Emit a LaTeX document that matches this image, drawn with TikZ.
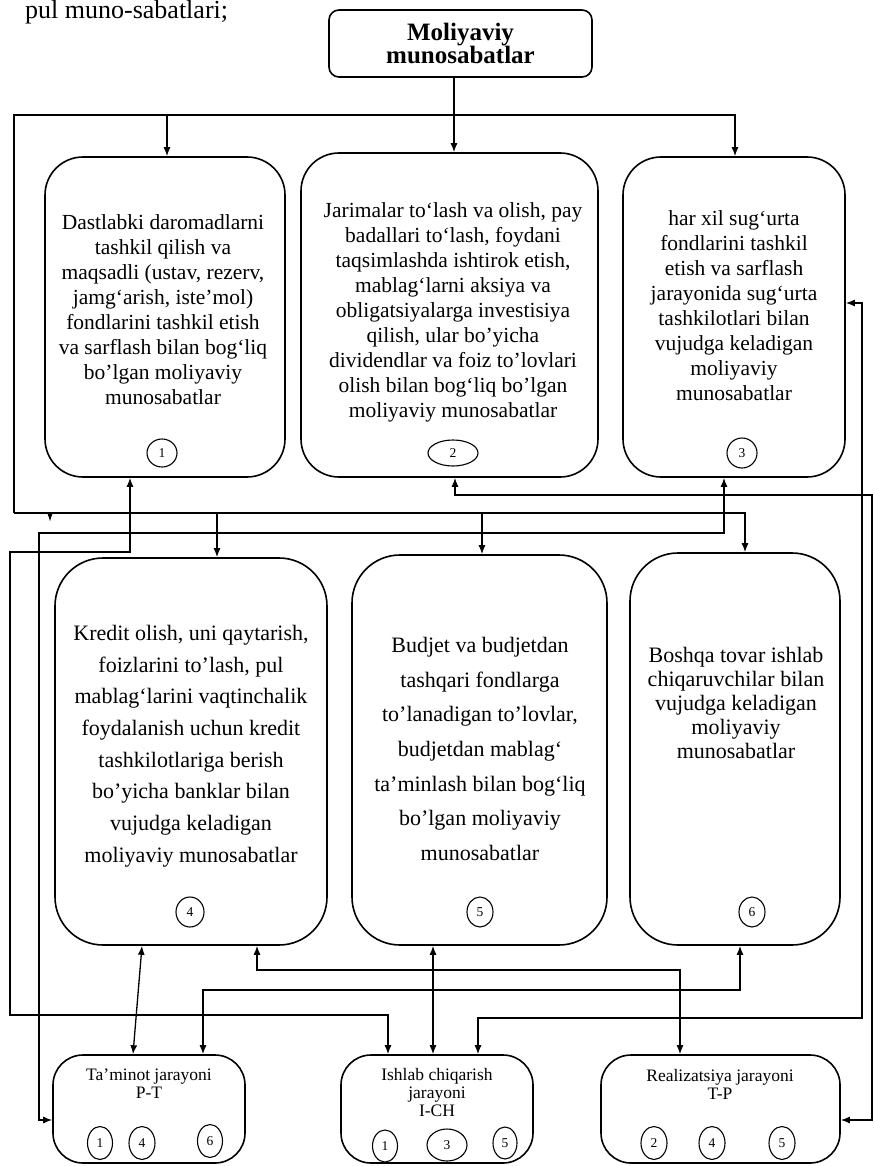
\documentclass[tikz,border=0pt]{standalone}
\usepackage{fontspec}
\setmainfont{Liberation Serif}
\usetikzlibrary{arrows.meta,calc,shapes.geometric}
\begin{document}
\begin{tikzpicture}[x=1pt,y=-1pt,
  >={Latex[length=9pt,width=7pt]},
  box/.style={draw, line width=1.6pt, rounded corners=#1, inner sep=0pt},
  conn/.style={line width=1.3pt},
  txtA/.style={align=center, inner sep=0pt, font=\fontsize{21.5}{25}\selectfont},
  txtB/.style={align=center, inner sep=0pt, font=\fontsize{22}{#1}\selectfont},
  txtC/.style={align=center, inner sep=0pt, font=\fontsize{17.5}{18}\selectfont},
  num/.style 2 args={draw, ellipse, line width=1.1pt, inner sep=0pt,
    minimum width=#1, minimum height=#2, font=\fontsize{13.5}{13.5}\selectfont}
]
\useasboundingbox (0,0) rectangle (874,1166);
\fill[white] (0,0) rectangle (874,1166);

% leftover text from the page above
\node[anchor=base west, inner sep=0pt, font=\fontsize{26}{26}\selectfont] (prev) at (25,19) {pul muno-sabatlari;};

% title
\node[box=10pt, minimum width=263pt, minimum height=67pt, align=center,
  font=\fontsize{25}{23}\selectfont\bfseries] (title) at (460.5,43.5) {Moliyaviy\\munosabatlar};

% top row
\node[box=38pt, minimum width=240pt, minimum height=320pt] (b1) at (165,317) {};
\node[box=38pt, minimum width=297pt, minimum height=324pt] (b2) at (449.5,315) {};
\node[box=38pt, minimum width=222pt, minimum height=320pt] (b3) at (734,317) {};

\node[txtA] (t1) at (163,310) {Dastlabki daromadlarni\\tashkil qilish va\\maqsadli (ustav, rezerv,\\jamg‘arish, iste'mol)\\fondlarini tashkil etish\\va sarflash bilan bog‘liq\\bo'lgan moliyaviy\\munosabatlar};
\node[txtA] (t2) at (453,312) {Jarimalar to‘lash va olish, pay\\badallari to‘lash, foydani\\taqsimlashda ishtirok etish,\\mablag‘larni aksiya va\\obligatsiyalarga investisiya\\qilish, ular bo'yicha\\dividendlar va foiz to'lovlari\\olish bilan bog‘liq bo'lgan\\moliyaviy munosabatlar};
\node[txtA] (t3) at (734,306) {har xil sug‘urta\\fondlarini tashkil\\etish va sarflash\\jarayonida sug‘urta\\tashkilotlari bilan\\vujudga keladigan\\moliyaviy\\munosabatlar};

\node[num={30pt}{28pt}] (c1) at (162,453) {1};
\node[num={50pt}{26pt}] (c2) at (453,453) {2};
\node[num={30pt}{30pt}] (c3) at (742,453) {3};

% middle row
\node[box=48pt, minimum width=272pt, minimum height=387pt] (b4) at (191,751.5) {};
\node[box=48pt, minimum width=255pt, minimum height=390pt] (b5) at (479.5,750) {};
\node[box=48pt, minimum width=210pt, minimum height=392pt] (b6) at (735,749) {};

\node[txtB=31.7] (t4) at (191,746) {Kredit olish, uni qaytarish,\\foizlarini to'lash, pul\\mablag‘larini vaqtinchalik\\foydalanish uchun kredit\\tashkilotlariga berish\\bo'yicha banklar bilan\\vujudga keladigan\\moliyaviy munosabatlar};
\node[txtB=34.7] (t5) at (480,749) {Budjet va budjetdan\\tashqari fondlarga\\to'lanadigan to'lovlar,\\budjetdan mablag‘\\ta'minlash bilan bog‘liq\\bo'lgan moliyaviy\\munosabatlar};
\node[txtB=24.2] (t6) at (736,703) {Boshqa tovar ishlab\\chiqaruvchilar bilan\\vujudga keladigan\\moliyaviy\\munosabatlar};

\node[num={28pt}{30pt}] (c4) at (190,912) {4};
\node[num={26pt}{30pt}] (c5) at (480,912) {5};
\node[num={26pt}{30pt}] (c6) at (752,912) {6};

% bottom row
\node[box=30pt, minimum width=192pt, minimum height=108pt] (bt) at (149,1109) {};
\node[box=30pt, minimum width=192pt, minimum height=108pt] (bi) at (437,1109) {};
\node[box=30pt, minimum width=239pt, minimum height=108pt] (br) at (720.5,1109) {};

\node[txtC] (tt) at (149,1084) {Ta'minot jarayoni\\P-T};
\node[txtC] (ti) at (437,1093) {Ishlab chiqarish\\jarayoni\\I-CH};
\node[txtC] (tr) at (720,1084) {Realizatsiya jarayoni\\T-P};

\node[num={25pt}{33pt}] (d1) at (100,1143) {1};
\node[num={26pt}{33pt}] (d2) at (142,1143) {4};
\node[num={25pt}{33pt}] (d3) at (210,1141) {6};
\node[num={25pt}{32pt}] (e1) at (385,1146) {1};
\node[num={40pt}{32pt}] (e2) at (447,1145) {3};
\node[num={24pt}{32pt}] (e3) at (505,1143) {5};
\node[num={26pt}{33pt}] (f1) at (654,1143) {2};
\node[num={26pt}{33pt}] (f2) at (712,1143) {4};
\node[num={26pt}{33pt}] (f3) at (782,1143) {5};

% ---- connectors: top distribution
\coordinate (j0) at (454,115);
\coordinate (jl) at (14,115);
\coordinate (a1) at (167,115);
\coordinate (a3) at (735,115);
\coordinate (ml) at (14,513);
\coordinate (a4) at (217,513);
\coordinate (a5) at (482,513);
\coordinate (a6) at (745,513);
\coordinate (tk) at (50,513);
\draw[conn] (title.south -| j0) -- (j0);
\draw[conn,->] (j0) -- (b2.north -| j0);
\draw[conn,->] (j0) -- (a3) -- (b3.north -| a3);
\draw[conn,->] (j0) -- (a1) -- (b1.north -| a1);
\draw[conn] (a1) -- (jl) -- (ml);
\draw[conn,->] (ml) -- (a4) -- (b4.north -| a4);
\draw[conn,->] (a4) -- (a5) -- (b5.north -| a5);
\draw[conn,->] (a5) -- (a6) -- (b6.north -| a6);
\draw[conn,-{Latex[length=8pt,width=5pt]}] (tk) -- ++(0,9);

% box 1 <-> Ishlab
\coordinate (p1a) at (130,552);
\coordinate (p1b) at (10,552);
\coordinate (p1c) at (10,1015);
\coordinate (p1d) at (388,1015);
\draw[conn,<->] (b1.south -| p1a) -- (p1a) -- (p1b) -- (p1c) -- (p1d) -- (bi.north -| p1d);

% box 2 <-> Realizatsiya
\coordinate (p2a) at (455,495);
\coordinate (p2b) at (872,495);
\coordinate (p2c) at (872,1120);
\draw[conn,<->] (b2.south -| p2a) -- (p2a) -- (p2b) -- (p2c) -- (br.east |- p2c);

% box 3 (right) <-> Ishlab
\coordinate (p3a) at (862,303);
\coordinate (p3b) at (862,1018);
\coordinate (p3c) at (478,1018);
\draw[conn,<->] (b3.east |- p3a) -- (p3a) -- (p3b) -- (p3c) -- (bi.north -| p3c);

% box 3 (bottom) <-> Ta'minot
\coordinate (q1) at (724,533);
\coordinate (q2) at (39,533);
\coordinate (q3) at (39,1120);
\draw[conn,<->] (b3.south -| q1) -- (q1) -- (q2) -- (q3) -- (bt.west |- q3);

% box 4 <-> Ta'minot
\draw[conn,<->] ($(b4.south)+(-49,0)$) -- ($(bt.north)+(-16,0)$);

% box 4 <-> Realizatsiya
\coordinate (s1) at (257,970);
\coordinate (s2) at (680,970);
\draw[conn,<->] (b4.south -| s1) -- (s1) -- (s2) -- (br.north -| s2);

% Ta'minot <-> box 6
\coordinate (u1) at (203,990);
\coordinate (u2) at (740,990);
\draw[conn,<->] (bt.north -| u1) -- (u1) -- (u2) -- (b6.south -| u2);

% box 5 <-> Ishlab
\coordinate (v1) at (433,1000);
\draw[conn,<->] (b5.south -| v1) -- (bi.north -| v1);
\end{tikzpicture}
\end{document}
